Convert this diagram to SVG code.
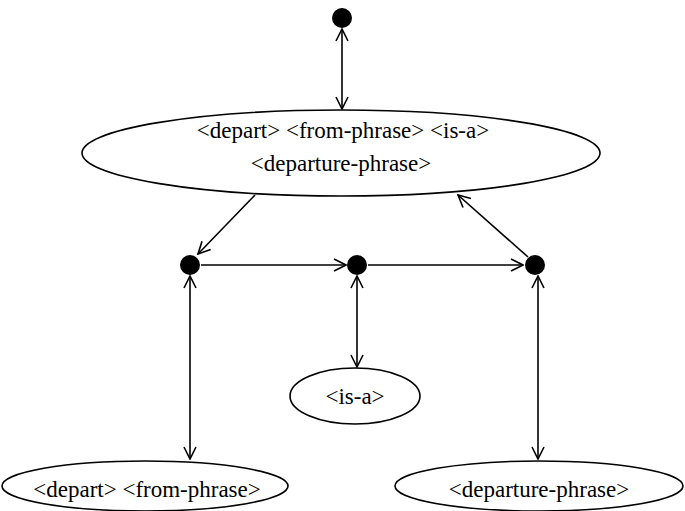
<svg xmlns="http://www.w3.org/2000/svg" width="685" height="511" viewBox="0 0 685 511">
<style>
.n{fill:#fff;stroke:#000;stroke-width:1.6}
.d{fill:#000}
.t{font-family:"Liberation Serif","Times New Roman",serif;font-size:23px;fill:#000;text-anchor:middle}
.e{stroke:#000;stroke-width:1.6;fill:none}
</style>
<defs>
<marker id="a" viewBox="0 0 14 14" refX="13" refY="7" markerWidth="14" markerHeight="14" markerUnits="userSpaceOnUse" orient="auto-start-reverse">
<path d="M1,1 L13,7 L1,13" fill="none" stroke="#000" stroke-width="1.6"/>
</marker>
</defs>
<rect width="685" height="511" fill="#fff"/>
<g id="edges">
<line class="e" x1="342" y1="29" x2="342" y2="109" marker-start="url(#a)" marker-end="url(#a)"/>
<line class="e" x1="255" y1="195" x2="198" y2="254" marker-end="url(#a)"/>
<line class="e" x1="528" y1="257" x2="458" y2="195" marker-end="url(#a)"/>
<line class="e" x1="201" y1="265" x2="346" y2="265" marker-end="url(#a)"/>
<line class="e" x1="368" y1="265" x2="523" y2="265" marker-end="url(#a)"/>
<line class="e" x1="190" y1="276" x2="190" y2="459" marker-start="url(#a)" marker-end="url(#a)"/>
<line class="e" x1="357" y1="276" x2="357" y2="367" marker-start="url(#a)" marker-end="url(#a)"/>
<line class="e" x1="538" y1="276" x2="538" y2="459" marker-start="url(#a)" marker-end="url(#a)"/>
</g>
<g id="top"><circle class="d" cx="342" cy="18" r="10"/></g>
<g id="main">
<ellipse class="n" cx="341" cy="153" rx="259" ry="43"/>
<text class="t" x="343" y="138">&lt;depart&gt; &lt;from-phrase&gt; &lt;is-a&gt;</text>
<text class="t" x="341" y="171">&lt;departure-phrase&gt;</text>
</g>
<g id="j1"><circle class="d" cx="190" cy="265" r="10"/></g>
<g id="j2"><circle class="d" cx="357" cy="265" r="10"/></g>
<g id="j3"><circle class="d" cx="535" cy="265" r="10"/></g>
<g id="isa">
<ellipse class="n" cx="355" cy="396" rx="65" ry="28"/>
<text class="t" x="355" y="404">&lt;is-a&gt;</text>
</g>
<g id="from">
<ellipse class="n" cx="145" cy="486" rx="143" ry="25"/>
<text class="t" x="147" y="497">&lt;depart&gt; &lt;from-phrase&gt;</text>
</g>
<g id="dep">
<ellipse class="n" cx="539" cy="486" rx="144" ry="25"/>
<text class="t" x="539" y="497">&lt;departure-phrase&gt;</text>
</g>
</svg>
